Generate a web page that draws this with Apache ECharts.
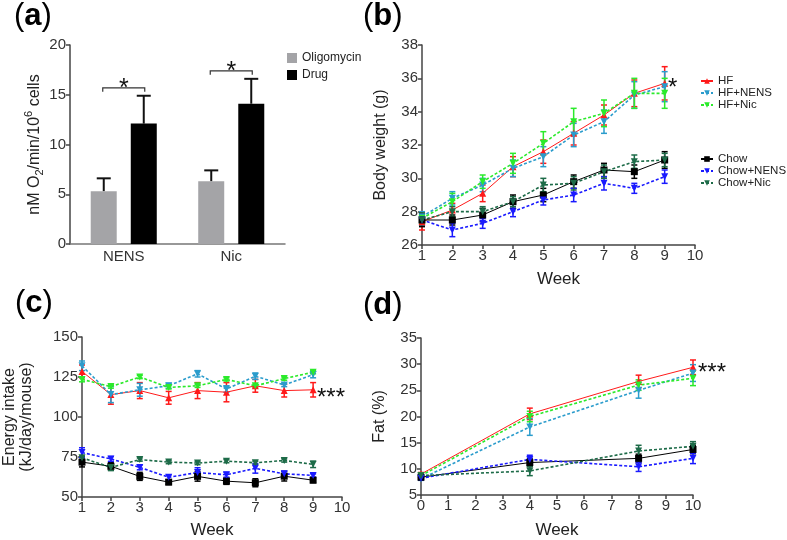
<!DOCTYPE html>
<html>
<head>
<meta charset="utf-8">
<script src="https://cdn.jsdelivr.net/npm/echarts@6/dist/echarts.min.js"></script>
<style>
  html, body { margin: 0; padding: 0; background: #fff; }
  #chart { width: 787px; height: 540px; }
</style>
</head>
<body>
<div id="chart"></div>
<script>
  /** Data */
  // (a) oxygen consumption
  var aCats = ['NENS', 'Nic'];
  var aOligo = [5.3, 6.3];
  var aOligoErr = [1.3, 1.1];
  var aDrug = [12.1, 14.1];
  var aDrugErr = [2.8, 2.5];
  var aBracket = [15.7, 17.4];

  var groups = ['HF', 'HF+NENS', 'HF+Nic', 'Chow', 'Chow+NENS', 'Chow+Nic'];

  // (b) body weight (g)
  var bWeeks = [1, 2, 3, 4, 5, 6, 7, 8, 9];
  var bHF = [27.4, 28.1, 29.1, 30.7, 31.6, 32.7, 33.8, 35.1, 35.7];
  var bHFErr = [0.5, 0.4, 0.5, 0.6, 0.7, 0.7, 0.6, 0.8, 1.0];
  var bHFNens = [27.7, 28.8, 29.6, 30.6, 31.3, 32.6, 33.4, 35.0, 35.5];
  var bHFNensErr = [0.3, 0.4, 0.4, 0.5, 0.6, 0.7, 0.7, 0.8, 0.9];
  var bHFNic = [27.6, 28.6, 29.8, 30.9, 32.1, 33.4, 33.9, 35.1, 35.1];
  var bHFNicErr = [0.3, 0.5, 0.4, 0.6, 0.7, 0.8, 0.8, 0.9, 0.9];
  var bChow = [27.5, 27.5, 27.8, 28.6, 29.0, 29.8, 30.5, 30.4, 31.1];
  var bChowErr = [0.4, 0.3, 0.4, 0.4, 0.4, 0.4, 0.4, 0.4, 0.5];
  var bChowNens = [27.5, 26.9, 27.3, 28.0, 28.7, 29.0, 29.7, 29.4, 30.1];
  var bChowNensErr = [0.3, 0.4, 0.3, 0.3, 0.3, 0.4, 0.4, 0.3, 0.4];
  var bChowNic = [27.5, 28.0, 28.0, 28.6, 29.6, 29.7, 30.4, 31.0, 31.1];
  var bChowNicErr = [0.3, 0.3, 0.3, 0.3, 0.4, 0.4, 0.4, 0.4, 0.4];

  // (c) energy intake (kJ/day/mouse)
  var cWeeks = [1, 2, 3, 4, 5, 6, 7, 8, 9];
  var cHF = [128.5, 114, 116.5, 112, 116.5, 115.5, 119.5, 116.5, 117];
  var cHFErr = [4, 6, 5, 4, 5, 6, 4, 4, 4.5];
  var cHFNens = [132, 114, 117, 119.5, 127, 117.5, 125.5, 120, 126.5];
  var cHFNensErr = [3, 5, 4, 1.5, 2, 2, 2, 1, 2];
  var cHFNic = [123.5, 119, 125, 118.5, 119.5, 123.5, 119.5, 124, 128];
  var cHFNicErr = [1.5, 1, 1, 1, 1, 1, 1, 1, 1];
  var cChow = [71.8, 69.2, 62.9, 59.3, 62.9, 59.9, 58.9, 63, 60.5];
  var cChowErr = [3, 2.5, 2.5, 1.5, 3, 2, 2.5, 3, 1.5];
  var cChowNens = [77.8, 73.8, 68.5, 62.3, 65.3, 63.9, 67.9, 64.5, 63.5];
  var cChowNensErr = [3, 1.5, 1.5, 1.5, 3, 1.5, 3, 1.5, 1];
  var cChowNic = [74.5, 68.5, 73.4, 71.8, 71.2, 72.4, 71.4, 72.8, 70.4];
  var cChowNicErr = [1, 2, 1, 1, 1, 1, 1, 1, 2];

  // (d) fat (%)
  var dWeeks = [0, 4, 8, 10];
  var dHF = [9.0, 20.5, 26.7, 29.4];
  var dHFErr = [0.3, 1.1, 1.2, 1.4];
  var dHFNens = [8.1, 18.0, 25.0, 28.3];
  var dHFNensErr = [0.3, 1.6, 1.5, 1.6];
  var dHFNic = [8.7, 20.0, 26.0, 27.3];
  var dHFNicErr = [0.3, 1.0, 1.0, 1.4];
  var dChow = [8.4, 11.2, 12.0, 13.7];
  var dChowErr = [0.5, 0.8, 0.8, 0.8];
  var dChowNens = [8.2, 11.8, 10.4, 12.0];
  var dChowNensErr = [0.3, 0.8, 0.9, 1.0];
  var dChowNic = [8.7, 9.6, 13.4, 14.3];
  var dChowNicErr = [0.3, 0.9, 1.1, 0.9];

  var font = "'Liberation Sans', Arial, sans-serif";
  var axisColor = '#444';
  var labelColor = '#333';

  // line look of each group
  var looks = {
    'HF':        { color: '#ff1a1a', dash: 'solid', width: 1, symbol: 'triangle', rot: 0 },
    'HF+NENS':   { color: '#2b9ccc', dash: [3, 2], width: 1.6, symbol: 'triangle', rot: 180 },
    'HF+Nic':    { color: '#2bea2b', dash: [3, 2], width: 1.6, symbol: 'triangle', rot: 180 },
    'Chow':      { color: '#000000', dash: 'solid', width: 1, symbol: 'rect', rot: 0 },
    'Chow+NENS': { color: '#1a1aff', dash: [3, 2], width: 1.6, symbol: 'triangle', rot: 180 },
    'Chow+Nic':  { color: '#1d6b48', dash: [3, 2], width: 1.6, symbol: 'triangle', rot: 180 }
  };

  function errItem(color, cap) {
    return function(params, api) {
      var lo = api.coord([api.value(0), api.value(1)]);
      var hi = api.coord([api.value(0), api.value(2)]);
      var st = { stroke: color, lineWidth: 1.5 };
      return {
        type: 'group',
        children: [
          { type: 'line', shape: { x1: lo[0], y1: lo[1], x2: hi[0], y2: hi[1] }, style: st },
          { type: 'line', shape: { x1: lo[0] - cap, y1: lo[1], x2: lo[0] + cap, y2: lo[1] }, style: st },
          { type: 'line', shape: { x1: hi[0] - cap, y1: hi[1], x2: hi[0] + cap, y2: hi[1] }, style: st }
        ]
      };
    };
  }

  function panelSeries(idx, xs, means, errs) {
    var out = [];
    groups.forEach(function(name, g) {
      var lk = looks[name];
      out.push({
        type: 'custom',
        xAxisIndex: idx, yAxisIndex: idx,
        silent: true,
        z: 2,
        encode: { x: 0, y: [1, 2] },
        renderItem: errItem(lk.color, 3),
        data: xs.map(function(x, i) { return [x, means[g][i] - errs[g][i], means[g][i] + errs[g][i]]; })
      });
      out.push({
        name: name,
        type: 'line',
        xAxisIndex: idx, yAxisIndex: idx,
        symbol: lk.symbol,
        symbolRotate: lk.rot,
        symbolSize: 7,
        showSymbol: true,
        z: 3,
        lineStyle: { color: lk.color, width: lk.width, type: lk.dash },
        itemStyle: { color: lk.color },
        data: xs.map(function(x, i) { return [x, means[g][i]]; })
      });
    });
    return out;
  }

  function valAxis(grid, min, max, step, name, gap) {
    return {
      type: 'value', gridIndex: grid, min: min, max: max, interval: step,
      name: name, nameLocation: 'middle', nameGap: gap,
      nameTextStyle: { fontFamily: font, fontSize: 16, color: '#222', lineHeight: 17 },
      axisLine: { show: true, lineStyle: { color: axisColor, width: 1.5 } },
      axisTick: { show: true, length: 4, lineStyle: { color: axisColor, width: 1.5 } },
      axisLabel: { fontFamily: font, fontSize: 15, color: labelColor, margin: 4 },
      splitLine: { show: false }
    };
  }

  function capsA(sign) {
    return function(params, api) {
      var base = api.coord([api.value(0), api.value(1)]);
      var top = api.coord([api.value(0), api.value(2)]);
      var x = base[0] + sign * 20;
      var st = { stroke: '#111', lineWidth: 2 };
      return {
        type: 'group',
        children: [
          { type: 'line', shape: { x1: x, y1: base[1], x2: x, y2: top[1] }, style: st },
          { type: 'line', shape: { x1: x - 7, y1: top[1], x2: x + 7, y2: top[1] }, style: st }
        ]
      };
    };
  }

  function bracketA(params, api) {
    var p = api.coord([api.value(0), api.value(1)]);
    return {
      type: 'group',
      children: [
        { type: 'polyline', shape: { points: [[p[0] - 21, p[1] + 4], [p[0] - 21, p[1]], [p[0] + 21, p[1]], [p[0] + 21, p[1] + 4]] },
          style: { stroke: '#333', lineWidth: 1.2, fill: null } },
        { type: 'text', x: p[0], y: p[1] + 1,
          style: { text: '*', fontSize: 25, fontFamily: font, fill: '#111', align: 'center', verticalAlign: 'middle' } }
      ]
    };
  }

  function panelTag(letter, left, top) {
    return {
      type: 'text', left: left, top: top,
      style: {
        text: '{p|(}{b|' + letter + '}{p|)}',
        rich: {
          p: { fontSize: 31, fontFamily: font, fill: '#000' },
          b: { fontSize: 31, fontFamily: font, fontWeight: 'bold', fill: '#000' }
        }
      }
    };
  }

  function starText(text, left, y) {
    return {
      type: 'text', left: left, top: y - 12,
      style: { text: text, fontSize: 24, fontFamily: font, fill: '#111' }
    };
  }

  var series = [
    {
      name: 'Oligomycin', type: 'bar', xAxisIndex: 0, yAxisIndex: 0,
      barWidth: 26, barGap: '54%', itemStyle: { color: '#a4a4a7' }, data: aOligo
    },
    {
      name: 'Drug', type: 'bar', xAxisIndex: 0, yAxisIndex: 0,
      barWidth: 26, barGap: '54%', itemStyle: { color: '#000' }, data: aDrug
    },
    {
      type: 'custom', xAxisIndex: 0, yAxisIndex: 0, silent: true, z: 1,
      renderItem: capsA(-1),
      data: aOligo.map(function(v, i) { return [i, v, v + aOligoErr[i]]; })
    },
    {
      type: 'custom', xAxisIndex: 0, yAxisIndex: 0, silent: true, z: 1,
      renderItem: capsA(1),
      data: aDrug.map(function(v, i) { return [i, v, v + aDrugErr[i]]; })
    },
    {
      type: 'custom', xAxisIndex: 0, yAxisIndex: 0, silent: true, z: 5,
      renderItem: bracketA,
      data: aBracket.map(function(v, i) { return [i, v]; })
    }
  ];

  series = series
    .concat(panelSeries(1, bWeeks, [bHF, bHFNens, bHFNic, bChow, bChowNens, bChowNic],
      [bHFErr, bHFNensErr, bHFNicErr, bChowErr, bChowNensErr, bChowNicErr]))
    .concat(panelSeries(2, cWeeks, [cHF, cHFNens, cHFNic, cChow, cChowNens, cChowNic],
      [cHFErr, cHFNensErr, cHFNicErr, cChowErr, cChowNensErr, cChowNicErr]))
    .concat(panelSeries(3, dWeeks, [dHF, dHFNens, dHFNic, dChow, dChowNens, dChowNic],
      [dHFErr, dHFNensErr, dHFNicErr, dChowErr, dChowNensErr, dChowNicErr]));

  var aY = valAxis(0, 0, 20, 5, '{t|nM O}{s|2}{t|/min/10}{p|6}{t| cells}', 22);
  aY.nameTextStyle.rich = {
    t: { fontFamily: font, fontSize: 16, color: '#222', lineHeight: 22 },
    s: { fontFamily: font, fontSize: 11, color: '#222', lineHeight: 11, verticalAlign: 'bottom' },
    p: { fontFamily: font, fontSize: 11, color: '#222', lineHeight: 11, verticalAlign: 'top' }
  };

  var option = {
    animation: false,
    backgroundColor: '#fff',
    textStyle: { fontFamily: font },
    grid: [
      { left: 70, top: 45, width: 215, height: 199 },
      { left: 422, top: 45, width: 273, height: 200 },
      { left: 68, top: 337, width: 274, height: 168 },
      { left: 421, top: 338, width: 272, height: 167 }
    ],
    legend: [
      {
        data: ['Oligomycin', 'Drug'], left: 287, top: 52, padding: 0, orient: 'vertical',
        icon: 'rect', itemWidth: 10, itemHeight: 10, itemGap: 5, selectedMode: false,
        textStyle: { fontFamily: font, fontSize: 12, color: '#222' }
      },
      {
        data: ['HF', 'HF+NENS', 'HF+Nic'], left: 700, top: 75, padding: 0, orient: 'vertical',
        itemWidth: 12, itemHeight: 7, itemGap: 0, selectedMode: false,
        textStyle: { fontFamily: font, fontSize: 11.5, color: '#222', lineHeight: 11.5 }
      },
      {
        data: ['Chow', 'Chow+NENS', 'Chow+Nic'], left: 700, top: 153, padding: 0, orient: 'vertical',
        itemWidth: 12, itemHeight: 7, itemGap: 0, selectedMode: false,
        textStyle: { fontFamily: font, fontSize: 11.5, color: '#222', lineHeight: 11.5 }
      }
    ],
    xAxis: [
      {
        type: 'category', gridIndex: 0, data: aCats,
        axisLine: { lineStyle: { color: '#777', width: 1.5 } },
        axisTick: { show: false },
        axisLabel: { fontFamily: font, fontSize: 15, color: labelColor, margin: 5 }
      },
      valAxis(1, 1, 10, 1, 'Week', 26),
      valAxis(2, 1, 10, 1, 'Week', 25),
      valAxis(3, 0, 10, 1, 'Week', 27)
    ],
    yAxis: [
      aY,
      valAxis(1, 26, 38, 2, 'Body weight (g)', 33),
      valAxis(2, 50, 150, 25, 'Energy intake\n(kJ/day/mouse)', 47),
      valAxis(3, 5, 35, 5, 'Fat (%)', 33)
    ],
    graphic: [
      panelTag('a', 14, 1),
      panelTag('b', 363, 1),
      panelTag('c', 15, 288),
      panelTag('d', 363, 290),
      starText('*', 668, 88),
      starText('***', 317, 398),
      starText('***', 698, 373)
    ],
    series: series
  };

  option.xAxis.slice(1).forEach(function(ax) {
    ax.axisLabel.margin = 3;
    ax.nameTextStyle.fontSize = 17;
  });

  var chartInstance = echarts.init(document.getElementById('chart'));
  chartInstance.setOption(option);
</script>
</body>
</html>
